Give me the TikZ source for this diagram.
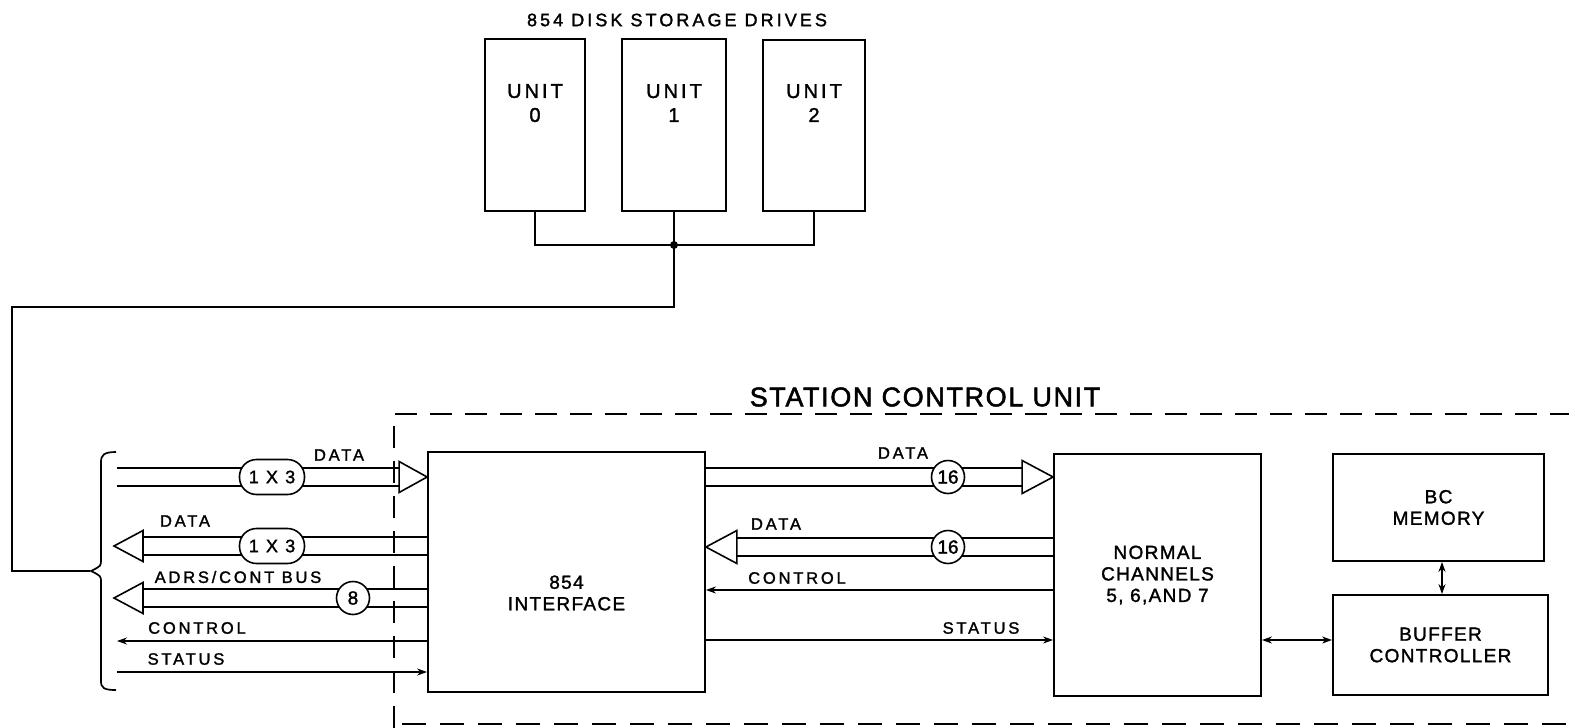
\documentclass[tikz,border=0pt]{standalone}
\usepackage{fontspec}
\usetikzlibrary{arrows.meta,calc}
\newfontfamily\lblfam[LetterSpace=17,FakeBold=1.6]{Liberation Sans}
\newfontfamily\boxfam[LetterSpace=7,FakeBold=1.6]{Liberation Sans}
\newfontfamily\unitfam[LetterSpace=15,FakeBold=1.6]{Liberation Sans}
\newfontfamily\capfam[LetterSpace=40,FakeBold=1.6]{Liberation Sans}
\newfontfamily\numfam[LetterSpace=0,FakeBold=1.6]{Liberation Sans}
\newfontfamily\ttlfam[LetterSpace=6,FakeBold=1.8]{Liberation Sans}
\tikzset{
  lbl/.style={font=\lblfam\fontsize{16.5}{20.5}\selectfont, inner sep=0pt, align=center},
  boxtxt/.style={font=\boxfam\fontsize{19}{21.5}\selectfont, align=center},
  unittxt/.style={font=\unitfam\fontsize{20}{24}\selectfont, inner sep=0pt, align=center},
  ttl/.style={font=\ttlfam\fontsize{27}{30}\selectfont, inner sep=0pt},
  blk/.style={draw, line width=1.8pt, inner sep=0pt, boxtxt},
  wire/.style={line width=1.7pt},
  sig/.style={line width=1.5pt, -{Stealth[length=10pt,width=7pt]}},
  sigb/.style={line width=1.5pt, {Stealth[length=10pt,width=7pt]}-{Stealth[length=10pt,width=7pt]}},
  busline/.style={line width=1.6pt},
  head/.style={line width=1.6pt, fill=white, line join=miter},
  caps/.style={draw, line width=1.6pt, fill=white, rounded corners=17pt, minimum width=65pt, minimum height=35pt, inner sep=0pt, font=\capfam\fontsize{18}{20}\selectfont},
  cnt/.style={draw, circle, line width=1.6pt, fill=white, minimum size=33pt, inner sep=0pt, font=\numfam\fontsize{19}{20}\selectfont},
  bound/.style={line width=1.6pt, dash pattern=on 22pt off 13pt},
}
\begin{document}
\begin{tikzpicture}[x=1pt,y=-1pt]
\useasboundingbox (0,0) rectangle (1569,728);
% disk drives
\node[lbl, font=\lblfam\fontsize{18}{21}\selectfont] (dtitle) at (677,20) {854 DISK STORAGE DRIVES};
\node[blk, minimum width=100pt, minimum height=172pt] (u0) at (535,125) {};
\node[blk, minimum width=104pt, minimum height=172pt] (u1) at (674,125) {};
\node[blk, minimum width=102pt, minimum height=171pt] (u2) at (814,125.5) {};
\node[unittxt] (t0) at ($(u0.north)+(0,65)$) {UNIT\\0};
\node[unittxt] (t1) at ($(u1.north)+(0,65)$) {UNIT\\1};
\node[unittxt] (t2) at ($(u2.north)+(0,64)$) {UNIT\\2};
\coordinate (jn) at (u1.south |- 0,245);
\draw[wire] (u0.south) -- (u0.south |- jn) -- (u2.south |- jn) -- (u2.south);
\draw[wire] (u1.south) -- (jn) -- (u1.south |- 0,307) -- (12,307) -- (12,571) -- (90,571);
\fill (jn) circle (4pt);
% brace
\coordinate (bp) at (91,571);
\draw[wire] (116,452) .. controls (104,452) and (101,455) .. (101,462) -- (101,560) .. controls (101,566) .. (bp) .. controls (101,576) .. (101,582) -- (101,681) .. controls (101,688) and (104,690) .. (116,690);
% station control unit boundary
\node[ttl] (scu) at (925,397) {STATION CONTROL UNIT};
\draw[bound] (394,728) -- (394,414) -- (1575,414);
\draw[line width=2.6pt, dash pattern=on 24pt off 14pt] (402,724) -- (1575,724);
% main blocks
\node[blk, minimum width=277pt, minimum height=240pt] (iface) at (566.5,572) {};
\node[boxtxt, inner sep=0pt] (itxt) at ($(iface.center)+(0,21)$) {854\\INTERFACE};
\node[blk, minimum width=207pt, minimum height=242pt] (nc) at (1157.5,575) {NORMAL\\CHANNELS\\5, 6,AND 7};
\node[blk, minimum width=211pt, minimum height=107pt] (mem) at (1438.5,507.5) {BC\\MEMORY};
\node[blk, minimum width=215pt, minimum height=100pt] (buf) at (1440.5,645) {BUFFER\\CONTROLLER};
\draw[sigb] (mem.south -| 1442,0) -- (buf.north -| 1442,0);
\draw[sigb] (nc.east |- 0,640) -- (buf.west |- 0,640);
% left buses
\coordinate (b1s) at (117,477);
\coordinate (b1t) at (iface.west |- 0,477);
\draw[busline] ($(b1s)+(0,-9)$) -- ($(b1t)+(-28,-9)$);
\draw[busline] ($(b1s)+(0,9)$) -- ($(b1t)+(-28,9)$);
\draw[head] ($(b1t)+(-28,-15.5)$) -- (b1t) -- ($(b1t)+(-28,15.5)$) -- cycle;
\node[caps] (c1) at (272,477) {1X3};
\node[lbl] (l1) at (339,455) {DATA};

\coordinate (b2s) at (iface.west |- 0,546);
\coordinate (b2t) at (114,546);
\draw[busline] ($(b2s)+(0,-9)$) -- ($(b2t)+(29,-9)$);
\draw[busline] ($(b2s)+(0,9)$) -- ($(b2t)+(29,9)$);
\draw[head] ($(b2t)+(29,-15.5)$) -- (b2t) -- ($(b2t)+(29,15.5)$) -- cycle;
\node[caps] (c2) at (272,546) {1X3};
\node[lbl] (l2) at (185,521) {DATA};

\coordinate (b3s) at (iface.west |- 0,598);
\coordinate (b3t) at (114,598);
\draw[busline] ($(b3s)+(0,-9)$) -- ($(b3t)+(29,-9)$);
\draw[busline] ($(b3s)+(0,9)$) -- ($(b3t)+(29,9)$);
\draw[head] ($(b3t)+(29,-15.5)$) -- (b3t) -- ($(b3t)+(29,15.5)$) -- cycle;
\node[cnt] (c3) at (353,598) {8};
\node[lbl] (l3) at (238,577) {ADRS/CONT BUS};

\coordinate (ctl) at (117,641);
\draw[sig] (iface.west |- ctl) -- (ctl);
\node[lbl] (l4) at (197,628) {CONTROL};
\coordinate (sts) at (117,672);
\draw[sig] (sts) -- (iface.west |- sts);
\node[lbl] (l5) at (186,659) {STATUS};

% middle buses
\coordinate (m1t) at (nc.west |- 0,477);
\draw[busline] (iface.east |- 0,468) -- ($(m1t)+(-31,-9)$);
\draw[busline] (iface.east |- 0,486) -- ($(m1t)+(-31,9)$);
\draw[head] ($(m1t)+(-31,-16.5)$) -- (m1t) -- ($(m1t)+(-31,16.5)$) -- cycle;
\node[cnt] (c4) at (948,477) {16};
\node[lbl] (l6) at (903,453) {DATA};

\coordinate (m2t) at (iface.east |- 0,547);
\draw[busline] (nc.west |- 0,538) -- ($(m2t)+(31,-9)$);
\draw[busline] (nc.west |- 0,556) -- ($(m2t)+(31,9)$);
\draw[head] ($(m2t)+(31,-16.5)$) -- (m2t) -- ($(m2t)+(31,16.5)$) -- cycle;
\node[cnt] (c5) at (948,547) {16};
\node[lbl] (l7) at (776,524) {DATA};

\draw[sig] (nc.west |- 0,590) -- (iface.east |- 0,590);
\node[lbl] (l8) at (797,578) {CONTROL};
\draw[sig] (iface.east |- 0,640) -- (nc.west |- 0,640);
\node[lbl] (l9) at (981,628) {STATUS};
\end{tikzpicture}
\end{document}
